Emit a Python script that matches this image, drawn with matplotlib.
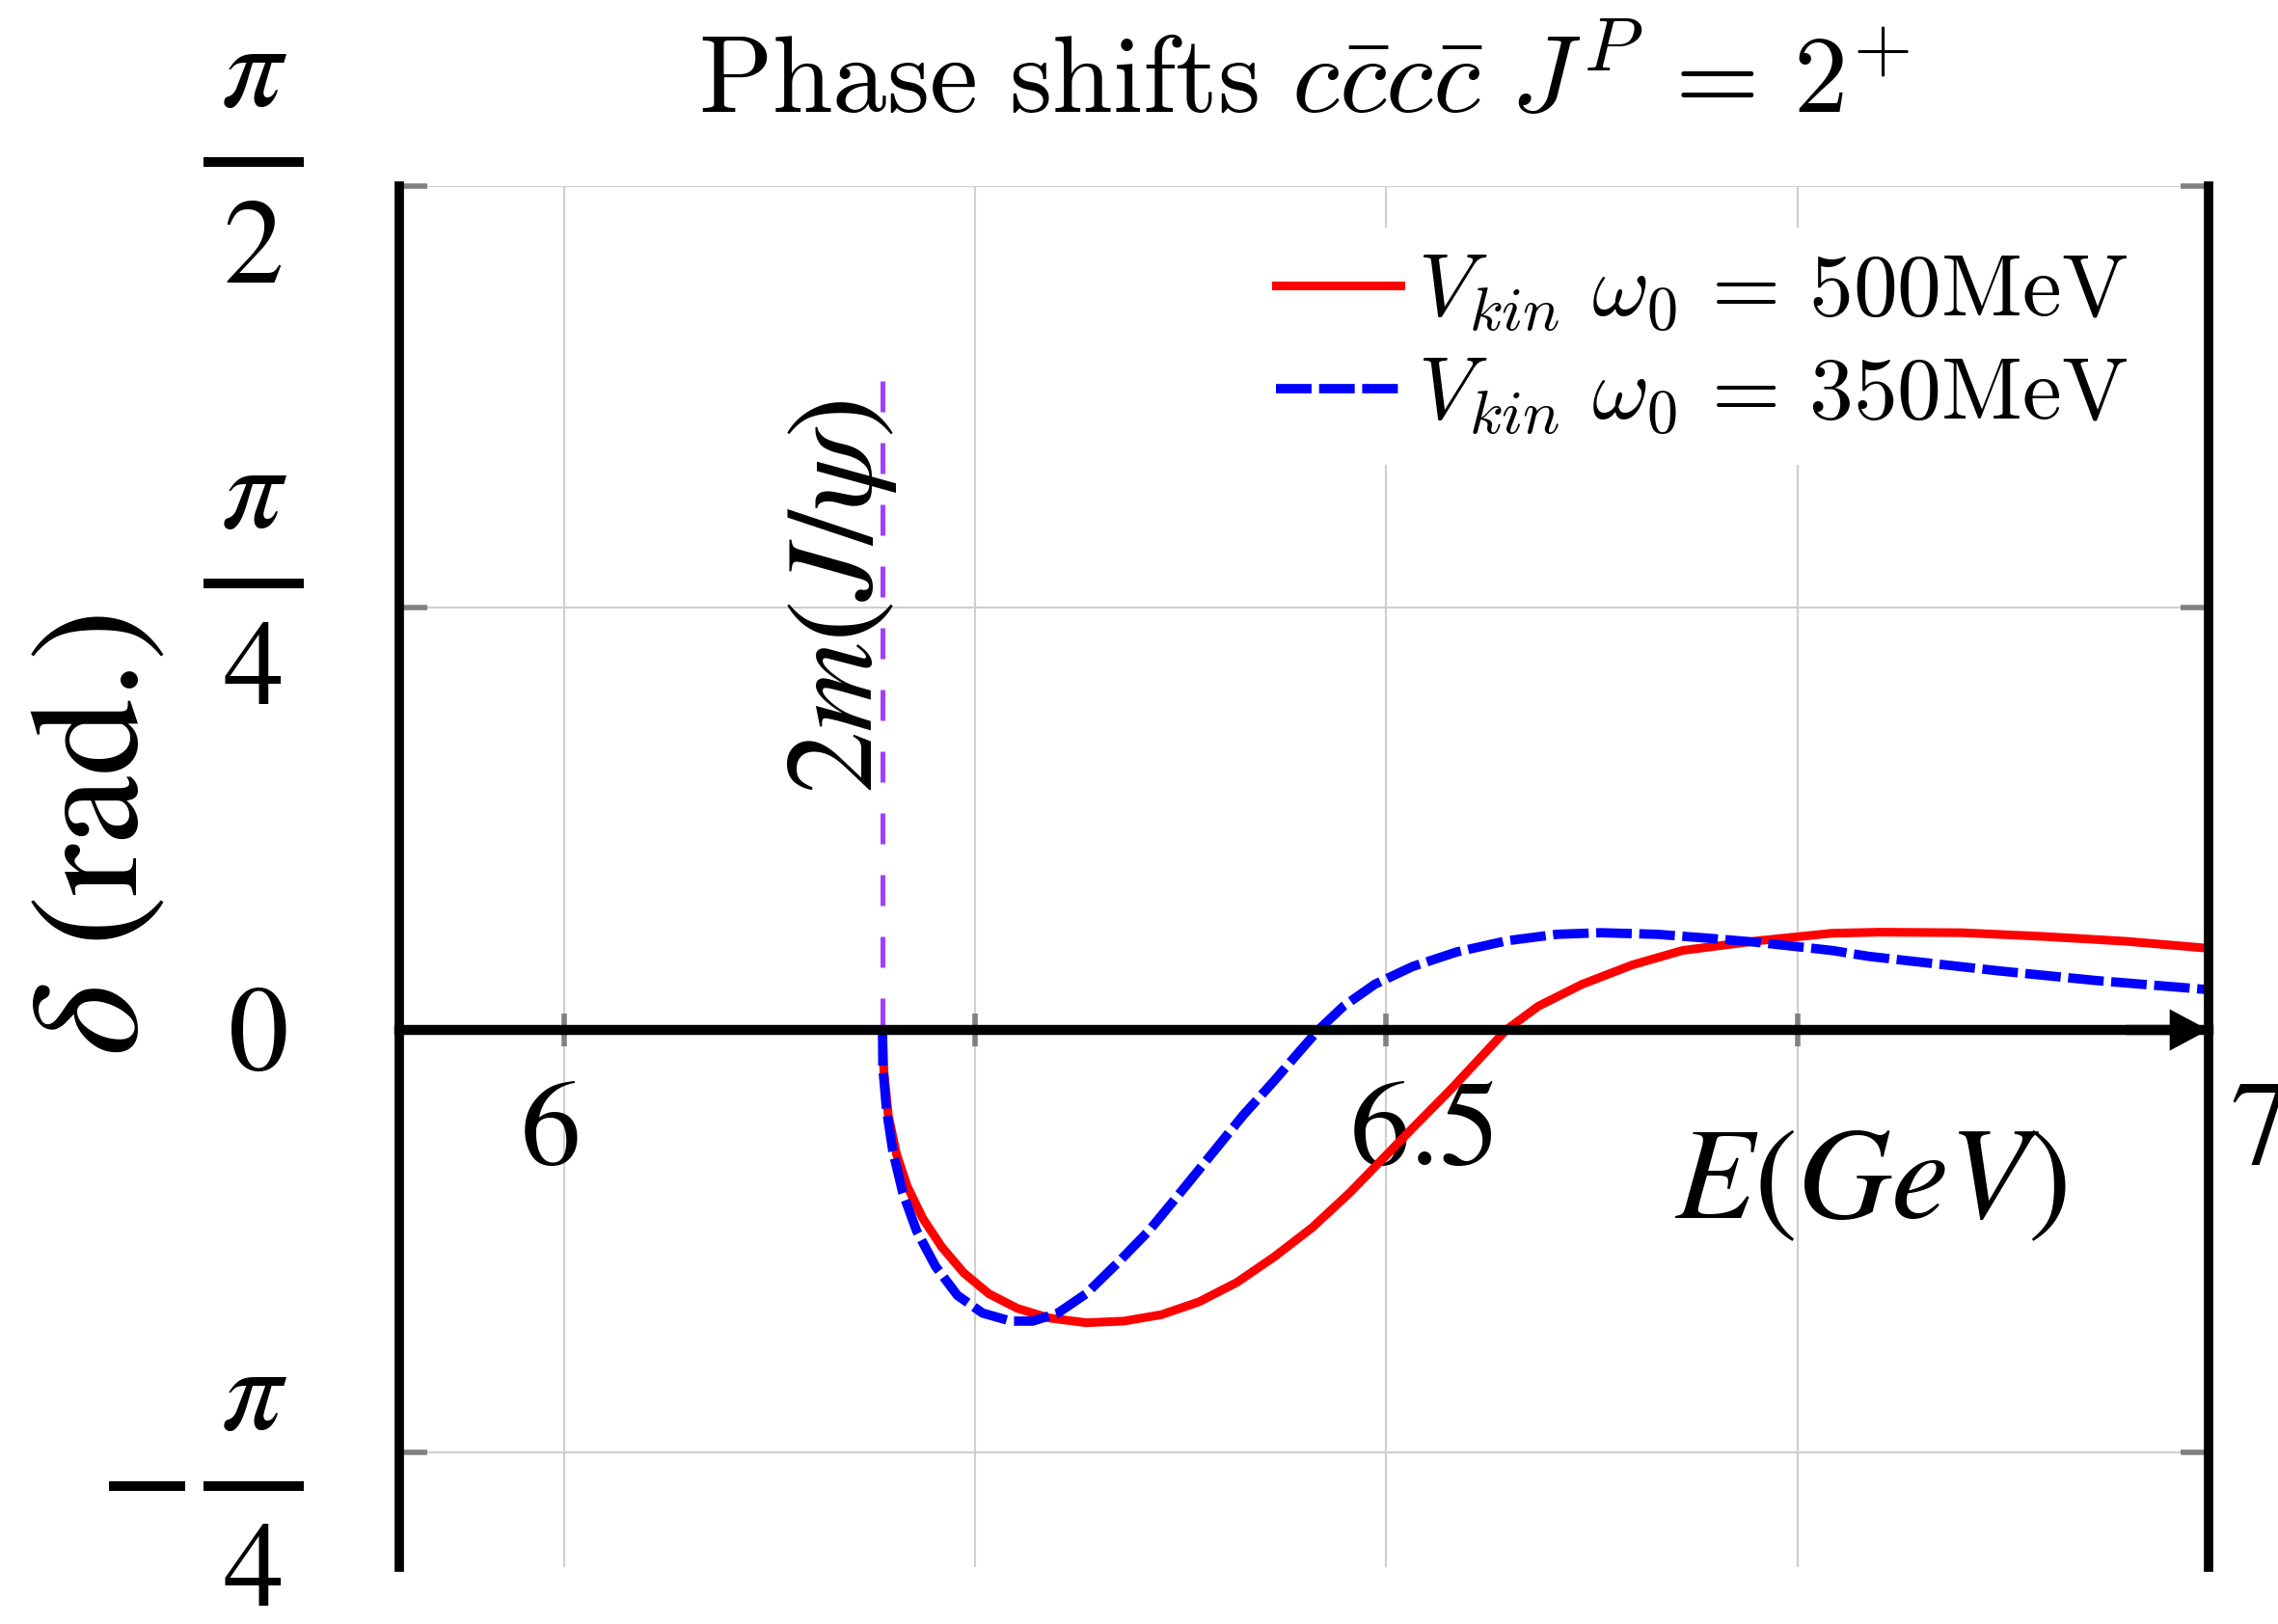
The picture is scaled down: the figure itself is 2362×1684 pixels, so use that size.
import matplotlib
matplotlib.use("Agg")

import numpy as np
import matplotlib.pyplot as plt
from matplotlib.font_manager import FontProperties
from matplotlib.transforms import ScaledTranslation, blended_transform_factory

# 2 m(J/psi) threshold, GeV
E_THRESHOLD = 6.1938
THRESHOLD_LINE_TOP = 1.2075

# phase shift, V_kin with omega_0 = 500 MeV
e_500 = [6.1938, 6.1946, 6.1973, 6.2023, 6.2088, 6.2183, 6.2298, 6.2431,
         6.2584, 6.2756, 6.2947, 6.3176, 6.3405, 6.3634, 6.3863, 6.4092,
         6.4321, 6.4550, 6.4779, 6.4969, 6.5160, 6.5389, 6.5560, 6.5730,
         6.5924, 6.6191, 6.6496, 6.6802, 6.7260, 6.7710, 6.8000, 6.8500,
         6.9000, 6.9500, 7.0000]
delta_500 = [0.000, -0.076, -0.159, -0.231, -0.291, -0.351, -0.404, -0.452,
             -0.491, -0.518, -0.536, -0.545, -0.542, -0.530, -0.506, -0.470,
             -0.422, -0.368, -0.303, -0.243, -0.183, -0.112, -0.056, 0.000,
             0.044, 0.085, 0.121, 0.148, 0.166, 0.180, 0.182, 0.181,
             0.174, 0.165, 0.152]

# phase shift, V_kin with omega_0 = 350 MeV
e_350 = [6.1938, 6.1940, 6.1962, 6.2000, 6.2061, 6.2145, 6.2260, 6.2393,
         6.2546, 6.2718, 6.2851, 6.3004, 6.3176, 6.3366, 6.3557, 6.3748,
         6.3939, 6.4130, 6.4321, 6.4473, 6.4588, 6.4740, 6.4931, 6.5160,
         6.5427, 6.5733, 6.6038, 6.6305, 6.6649, 6.6992, 6.7260, 6.7710,
         6.7934, 6.8724, 6.9317, 7.0000]
delta_350 = [0.000, -0.070, -0.148, -0.225, -0.303, -0.374, -0.440, -0.494,
             -0.527, -0.542, -0.542, -0.527, -0.491, -0.434, -0.374, -0.303,
             -0.231, -0.159, -0.094, -0.040, 0.000, 0.044, 0.085, 0.118,
             0.145, 0.166, 0.178, 0.181, 0.178, 0.170, 0.163, 0.148,
             0.137, 0.110, 0.092, 0.075]

x_ticks = [6.0, 6.25, 6.5, 6.75, 7.0]
x_tick_labels = ["6", "", "6.5", "", "7"]
y_ticks = [-np.pi / 4, 0.0, np.pi / 4, np.pi / 2]
y_tick_sign = ["-", "", "", ""]
y_tick_num = [r"$\pi$", "0", r"$\pi$", r"$\pi$"]
y_tick_den = ["4", None, "4", "2"]

label_500 = r"$V_{kin}\ \omega_0\,=\,500\mathrm{MeV}$"
label_350 = r"$V_{kin}\ \omega_0\,=\,350\mathrm{MeV}$"

plt.rcParams["font.family"] = ["STIXGeneral", "DejaVu Sans"]
plt.rcParams["mathtext.fontset"] = "stix"

fig = plt.figure(figsize=(23.62, 16.84), dpi=100)
ax = fig.add_axes([0.1753, 0.0350, 0.7942, 0.8504])

ax.plot(e_500, delta_500, color="#ff0000", lw=6.5, label=label_500)
ax.plot(e_350, delta_350, color="#0000ff", lw=7, dashes=(3.8, 0.8), label=label_350)
ax.plot([E_THRESHOLD, E_THRESHOLD], [THRESHOLD_LINE_TOP, 0],
        color="#a040ff", lw=3.6, dashes=(6.4, 6.4))
ax.text(6.1695, 0.807, r"$2m(J/\psi)$", rotation=90, ha="center", va="center",
        fontsize=93)

ax.set_xlim(5.9, 7.0)
ax.set_ylim(-1.0, np.pi / 2)

# x axis drawn through delta = 0, with an arrow at the right end
for side in ("left", "right"):
    ax.spines[side].set_linewidth(7)
ax.spines["top"].set_visible(False)
ax.spines["bottom"].set_position(("data", 0))
ax.spines["bottom"].set_linewidth(7.5)
ax.annotate("", xy=(7.0, 0), xytext=(6.95, 0), annotation_clip=False,
            arrowprops=dict(arrowstyle="simple,head_length=29,head_width=31,tail_width=7.5",
                            mutation_scale=1, color="k", lw=0, shrinkA=0, shrinkB=0))

ax.set_xticks(x_ticks, x_tick_labels)
ax.set_yticks(y_ticks, [""] * len(y_ticks))
ax.tick_params(axis="x", direction="inout", length=24, width=4, color="#808080",
               labelsize=90, pad=26)
ax.tick_params(axis="y", direction="in", length=21, width=4, color="#808080",
               left=True, right=True)
ax.grid(True, color="#cfcfcf", lw=1.5)
ax.set_axisbelow(True)

# small horizontal nudges of the energy labels
xlabel_shift_pt = [-10, 0, 29, 0, 39]
for lab, dx in zip(ax.get_xticklabels(), xlabel_shift_pt):
    lab.set_transform(lab.get_transform() + ScaledTranslation(dx / 72, 0, fig.dpi_scale_trans))

# stacked fraction labels for the phase axis (offsets in pixels, +y is down)
tick_tr = blended_transform_factory(ax.transAxes, ax.transData)
ax_w = fig.get_figwidth() * fig.dpi * 0.7942


def px_shift(dx, dy):
    return tick_tr + ScaledTranslation(dx / fig.dpi, -dy / fig.dpi, fig.dpi_scale_trans)


ylabel_shift_px = [60, 0, 0, 0]
for yv, sign, num, den, sh in zip(y_ticks, y_tick_sign, y_tick_num, y_tick_den, ylabel_shift_px):
    if den is None:
        ax.text(0, yv, num, transform=px_shift(-146, sh + 11), ha="center", va="center",
                fontsize=90, clip_on=False)
        continue
    ax.text(0, yv, num, transform=px_shift(-151, sh - 113), ha="center", va="center",
            fontsize=90, clip_on=False)
    ax.text(0, yv, den, transform=px_shift(-151, sh + 70), ha="center", va="center",
            fontsize=90, clip_on=False)
    ax.plot([-203 / ax_w, -99 / ax_w], [yv, yv], transform=px_shift(0, sh - 25),
            color="k", lw=7.2, solid_capstyle="butt", clip_on=False)
    if sign:
        ax.plot([-301 / ax_w, -222 / ax_w], [yv, yv], transform=px_shift(0, sh - 25),
                color="k", lw=7.2, solid_capstyle="butt", clip_on=False)

ax.set_xlabel(r"$E(GeV)$", fontsize=97, va="center")
ax.xaxis.set_label_coords(0.813, 0.275)
ax.set_ylabel(r"$\delta$ (rad.)", fontsize=115, va="center")
ax.yaxis.set_label_coords(-0.165, 0.53)

ax.set_title(r"$\mathrm{Phase\ shifts}\ c\bar{c}c\bar{c}\ J^P\,=\,2^{+}$",
             fontsize=81, math_fontfamily="cm", pad=55)

ax.legend(loc="upper left", bbox_to_anchor=(0.47, 0.970),
          prop=FontProperties(size=66, math_fontfamily="cm"),
          frameon=True, facecolor="white", edgecolor="none", framealpha=1,
          fancybox=False, borderpad=0.3, handlelength=1.4, handletextpad=0.2,
          labelspacing=0.25, borderaxespad=0)

fig.savefig("out.png", dpi=100)
